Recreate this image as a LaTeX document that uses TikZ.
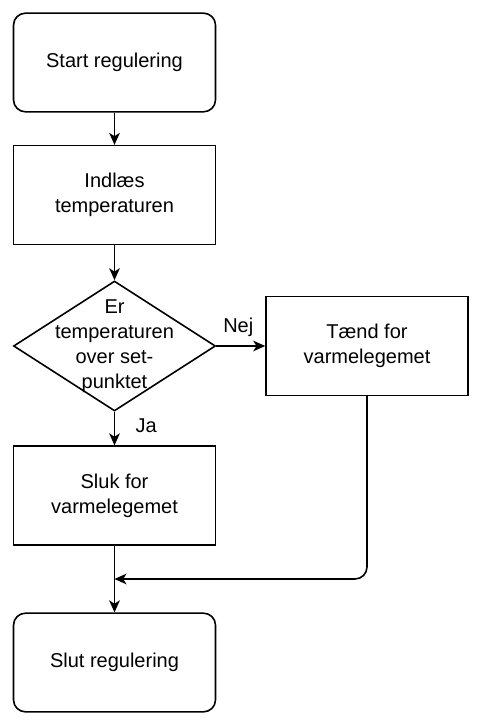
\documentclass[tikz,border=0pt]{standalone}
\usepackage{fontspec}
\setmainfont{Liberation Sans}
\usetikzlibrary{shapes.geometric,arrows.meta}

\begin{document}
\begin{tikzpicture}[x=0.75pt,y=-0.75pt,line width=1.2pt,
  font=\fontsize{15}{18.75}\selectfont,
  >={Stealth[length=9pt,width=8pt,inset=2.5pt]},
  boks/.style={draw,minimum width=151.5pt,minimum height=74pt,align=center,inner sep=0pt},
  rund/.style={boks,rounded corners=9pt},
  beslut/.style={draw,diamond,minimum width=151.5pt,minimum height=97.5pt,inner sep=0pt}]
\useasboundingbox (0,0) rectangle (483,723);
\node[rund] (start) at (114.5,62.5) {Start regulering};
\node[boks] (indlaes) at (114.5,195) {Indlæs\\temperaturen};
\node[beslut] (valg) at (114.5,346) {};
\node[align=center] (valgtekst) at (valg) {Er\\temperaturen\\over set-\\punktet};
\node[boks] (taend) at (367,346) {Tænd for\\varmelegemet};
\node[boks] (sluk) at (114.5,495.5) {Sluk for\\varmelegemet};
\node[rund] (slut) at (114.5,662.5) {Slut regulering};
\coordinate (flet) at (114.5,579);
\draw [->] (start) -- (indlaes);
\draw [->] (indlaes) -- (valg);
\draw [->] (valg.east) -- (taend.west) node [pos=0.45,above=3pt] {Nej};
\draw [->] (valg.south) -- (sluk.north) node [pos=0.4,right=12pt] {Ja};
\draw [->] (sluk) -- (slut);
\draw [->,rounded corners=9pt] (taend.south) |- (flet);
\end{tikzpicture}
\end{document}
